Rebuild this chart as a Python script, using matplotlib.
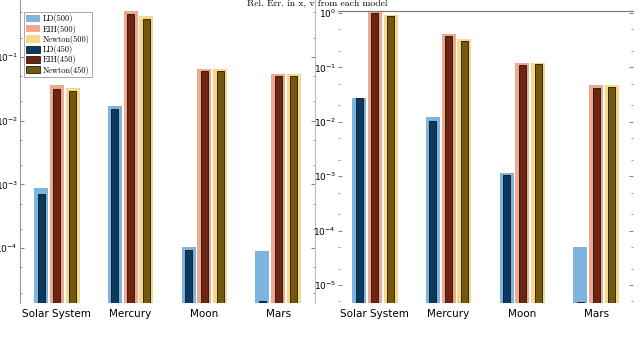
import numpy as np
import matplotlib
matplotlib.use('Agg')
from matplotlib import pyplot as plt
from matplotlib.ticker import LogLocator, NullFormatter

categories = ['Solar System', 'Mercury', 'Moon', 'Mars']
models = ['LD', 'EIH', 'Newton']

# left panel, 500 (light) and 450 (dark)
left_500 = {'LD': [8.9e-4, 0.017, 1.02e-4, 8.9e-5],
            'EIH': [0.036, 0.53, 0.064, 0.055],
            'Newton': [0.033, 0.44, 0.064, 0.055]}
left_450 = {'LD': [7.0e-4, 0.015, 9.3e-5, 1.45e-5],
            'EIH': [0.031, 0.47, 0.060, 0.050],
            'Newton': [0.029, 0.40, 0.061, 0.050]}

# right panel
right_500 = {'LD': [0.027, 0.012, 1.13e-3, 4.9e-5],
             'EIH': [1.05, 0.42, 0.122, 0.047],
             'Newton': [0.92, 0.34, 0.122, 0.047]}
right_450 = {'LD': [0.027, 0.0103, 1.07e-3, 4.9e-6],
             'EIH': [1.0, 0.38, 0.111, 0.042],
             'Newton': [0.89, 0.31, 0.115, 0.043]}

light_colors = {'LD': '#7db4e0', 'EIH': '#f0a890', 'Newton': '#f8d888'}
dark_colors = {'LD': '#0a3a60', 'EIH': '#6b2510', 'Newton': '#73580f'}
offsets = {'LD': -0.215, 'EIH': 0.0, 'Newton': 0.215}

plt.rcParams['mathtext.fontset'] = 'cm'

fig = plt.figure(figsize=(6.4, 3.4), dpi=100)
ax1 = fig.add_axes([20/640, 37/340, 295/640, 303/340])
ax2 = fig.add_axes([338/640, 36.7/340, 295/640, 292.3/340])


def draw_panel(ax, vals500, vals450, ylim):
    x = np.arange(1, len(categories)+1)
    for m in models:
        ax.bar(x+offsets[m], vals500[m], width=0.19, color=light_colors[m],
               label=m+'(500)', zorder=2)
    for m in models:
        ax.bar(x+offsets[m], vals450[m], width=0.095, color=dark_colors[m],
               edgecolor='black', linewidth=0.5, label=m+'(450)', zorder=3)
    ax.set_yscale('log')
    ax.set_ylim(ylim)
    ax.set_xlim(0.5, 4.5)
    ax.set_xticks(x)
    ax.set_xticklabels(categories, fontsize=7.5)
    ax.yaxis.set_major_locator(LogLocator(base=10))
    ax.yaxis.set_minor_locator(LogLocator(base=10, subs=(2, 5)))
    ax.yaxis.set_minor_formatter(NullFormatter())
    ax.tick_params(axis='y', which='both', direction='in', left=True, right=True,
                   labelsize=6.5, color='#888888', pad=1.5)
    ax.tick_params(axis='y', which='major', length=3)
    ax.tick_params(axis='y', which='minor', length=1.5)
    ax.tick_params(axis='x', length=0, pad=4)
    for s in ['top', 'bottom', 'left', 'right']:
        ax.spines[s].set_visible(False)


draw_panel(ax1, left_500, left_450, (1.37e-5, 0.785))
draw_panel(ax2, right_500, right_450, (4.6e-6, 1.09))

# left panel has its side spines, right panel just the top one
ax1.spines['left'].set_visible(True)
ax1.spines['right'].set_visible(True)
ax1.spines['left'].set_color('#999999')
ax1.spines['right'].set_color('#bbbbbb')
ax2.spines['top'].set_visible(True)
ax2.spines['top'].set_color('#777777')

leg = ax1.legend(loc='upper left', bbox_to_anchor=(0.008, 0.965),
                 prop={'family': 'cmr10', 'size': 6}, handlelength=1.7,
                 handleheight=1.0, labelspacing=0.15, borderpad=0.25,
                 handletextpad=0.3, borderaxespad=0.2, fancybox=False,
                 framealpha=1)
leg.get_frame().set_edgecolor('#999999')
leg.get_frame().set_linewidth(0.6)

fig.text(0.495, 0.988, 'Rel. Err. in x, v from each model', ha='center', va='center',
         fontsize=7, family='cmr10')

plt.savefig('out.png', dpi=100)
